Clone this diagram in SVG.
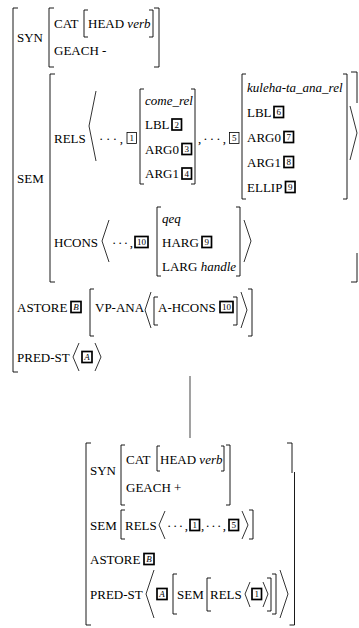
<svg xmlns="http://www.w3.org/2000/svg" width="359" height="628" viewBox="0 0 359 628">
  <style>
    text { font-family: "Liberation Serif", "Times New Roman", serif; font-size: 13px; fill: #000; }
    .it { font-style: italic; }
    .dots { font-size: 13px; }
    .br { fill: none; stroke: #000; stroke-width: 0.9; }
    .ang { fill: none; stroke: #000; stroke-width: 0.8; stroke-linejoin: miter; }
    .tag { fill: #fff; stroke: #000; stroke-width: 1.7; }
    .tagthin { fill: #fff; stroke: #000; stroke-width: 0.8; }
    .tn { font-size: 9px; text-anchor: middle; }
    .edge { stroke: #555; stroke-width: 1.1; fill: none; }
  </style>

  <!-- upper feature structure -->
  <g id="avm-top">
    <!-- brackets -->
    <path class="br" d="M18,8 H13 V372 H18"/>
    <path class="br" d="M54,8 H49 V67 H54 M154,8 H159 V67 H154"/>
    <path class="br" d="M88,10 H84 V37 H88 M149,10 H153 V37 H149"/>
    <path class="br" d="M55,74 H50 V282 H55"/>
    <path class="br" d="M351,72 H357 V103 M357,253 V282 H351"/>
    <path class="br" d="M144,89 H140 V184 H144 M191,89 H195 V184 H191"/>
    <path class="br" d="M246,74 H242 V199 H246 M343,74 H347 V199 H343"/>
    <path class="br" d="M161,207 H157 V276 H161 M236,207 H240 V276 H236"/>
    <path class="br" d="M94,289 H90 V336 H94 M248,289 H252 V336 H248"/>
    <path class="br" d="M158,297 H154 V325 H158 M233,297 H237 V325 H233"/>
    <!-- angle brackets -->
    <path class="ang" d="M96,91 L89,126 L96,161"/>
    <path class="ang" d="M350,106 L357,133 L350,160"/>
    <path class="ang" d="M109,220 L102,241 L109,262"/>
    <path class="ang" d="M244,220 L251,241 L244,262"/>
    <path class="ang" d="M151,292 L145,310 L151,328"/>
    <path class="ang" d="M241,292 L247,310 L241,328"/>
    <path class="ang" d="M79,343 L73,357 L79,371"/>
    <path class="ang" d="M95,343 L101,357 L95,371"/>

    <!-- SYN -->
    <text x="17" y="41.5">SYN</text>
    <text x="54" y="27.5">CAT</text>
    <text x="88" y="27.5">HEAD <tspan class="it">verb</tspan></text>
    <text x="54" y="54.5">GEACH -</text>

    <!-- SEM / RELS -->
    <text x="17" y="182.5">SEM</text>
    <text x="54" y="142.5">RELS</text>
    <text class="dots" x="99" y="142.5" textLength="24">· · · ,</text>
    <rect class="tagthin" x="127" y="132.5" width="9.5" height="11"/>
    <text class="tn" x="131.75" y="141.3">1</text>

    <text class="it" x="145" y="104.5">come_rel</text>
    <text x="145" y="129">LBL</text>
    <rect class="tag" x="172" y="119" width="9.5" height="11"/>
    <text class="tn" x="176.75" y="127.8">2</text>
    <text x="145" y="153.5">ARG0</text>
    <rect class="tag" x="182" y="143.5" width="9.5" height="11"/>
    <text class="tn" x="186.75" y="152.3">3</text>
    <text x="145" y="178">ARG1</text>
    <rect class="tag" x="182" y="168" width="9.5" height="11"/>
    <text class="tn" x="186.75" y="176.8">4</text>

    <text class="dots" x="198" y="142.5" textLength="28">, · · · ,</text>
    <rect class="tagthin" x="229.5" y="132.5" width="9.5" height="11"/>
    <text class="tn" x="234.25" y="141.3">5</text>

    <text class="it" x="247" y="91.5">kuleha-ta_ana_rel</text>
    <text x="247" y="116.5">LBL</text>
    <rect class="tag" x="274" y="106.5" width="9.5" height="11"/>
    <text class="tn" x="278.75" y="115.3">6</text>
    <text x="247" y="141.5">ARG0</text>
    <rect class="tag" x="284" y="131.5" width="9.5" height="11"/>
    <text class="tn" x="288.75" y="140.3">7</text>
    <text x="247" y="166.5">ARG1</text>
    <rect class="tag" x="284" y="156.5" width="9.5" height="11"/>
    <text class="tn" x="288.75" y="165.3">8</text>
    <text x="247" y="191.5">ELLIP</text>
    <rect class="tag" x="285.5" y="181.5" width="9.5" height="11"/>
    <text class="tn" x="290.25" y="190.3">9</text>

    <!-- SEM / HCONS -->
    <text x="54" y="246.5">HCONS</text>
    <text class="dots" x="112" y="246.5" textLength="21">· · · ,</text>
    <rect class="tag" x="135" y="236.5" width="13" height="11"/>
    <text class="tn" x="141.5" y="245.3">10</text>
    <text class="it" x="162" y="222.5">qeq</text>
    <text x="162" y="246.5">HARG</text>
    <rect class="tag" x="202" y="236.5" width="9.5" height="11"/>
    <text class="tn" x="206.75" y="245.3">9</text>
    <text x="162" y="270.5">LARG <tspan class="it">handle</tspan></text>

    <!-- ASTORE -->
    <text x="17" y="311.5">ASTORE</text>
    <rect class="tag" x="71" y="301.5" width="10" height="11"/>
    <text class="tn it" x="76" y="310.3">B</text>
    <text x="95" y="311.5">VP-ANA</text>
    <text x="158" y="311.5">A-HCONS</text>
    <rect class="tag" x="220" y="301.5" width="13" height="11"/>
    <text class="tn" x="226.5" y="310.3">10</text>

    <!-- PRED-ST -->
    <text x="17" y="361.5">PRED-ST</text>
    <rect class="tag" x="82" y="351.5" width="10" height="11"/>
    <text class="tn it" x="87" y="360.3">A</text>
  </g>

  <!-- tree edge between the two structures -->
  <g id="connectors">
    <line class="edge" x1="190" y1="376" x2="190" y2="438"/>
  </g>

  <!-- lower feature structure -->
  <g id="avm-bottom">
    <!-- brackets -->
    <path class="br" d="M91,443 H86 V625 H91"/>
    <path class="br" d="M287,443 H292 V473 M294.5,472 V625 H289.5"/>
    <path class="br" d="M125,445 H121 V505 H125 M226,445 H230 V505 H226"/>
    <path class="br" d="M160,446 H157 V471 H160 M221,446 H224 V471 H221"/>
    <path class="br" d="M125,510 H121 V539 H125 M249,510 H253 V539 H249"/>
    <path class="br" d="M177,574 H173 V614 H177 M272,574 H276 V614 H272"/>
    <path class="br" d="M211,578 H207 V611 H211 M267,578 H271 V611 H267"/>
    <!-- angle brackets -->
    <path class="ang" d="M165,511 L159,525 L165,539"/>
    <path class="ang" d="M242,511 L248,525 L242,539"/>
    <path class="ang" d="M154,570 L146,594 L154,618"/>
    <path class="ang" d="M280,570 L288,594 L280,618"/>
    <path class="ang" d="M250,582 L245,594 L250,607"/>
    <path class="ang" d="M263,582 L268,594 L263,607"/>

    <!-- SYN -->
    <text x="90" y="475">SYN</text>
    <text x="126" y="463.5">CAT</text>
    <text x="160" y="463.5">HEAD <tspan class="it">verb</tspan></text>
    <text x="126" y="491.5">GEACH +</text>

    <!-- SEM -->
    <text x="90" y="529.5">SEM</text>
    <text x="125" y="529.5">RELS</text>
    <text class="dots" x="167" y="529.5" textLength="21">· · · ,</text>
    <rect class="tag" x="190" y="519.5" width="9.5" height="11"/>
    <text class="tn" x="194.75" y="528.3">1</text>
    <text class="dots" x="201" y="529.5" textLength="25">, · · · ,</text>
    <rect class="tag" x="229" y="519.5" width="9.5" height="11"/>
    <text class="tn" x="233.75" y="528.3">5</text>

    <!-- ASTORE -->
    <text x="90" y="563.5">ASTORE</text>
    <rect class="tag" x="144" y="553.5" width="10" height="11"/>
    <text class="tn it" x="149" y="562.3">B</text>

    <!-- PRED-ST -->
    <text x="90" y="598.5">PRED-ST</text>
    <rect class="tag" x="157" y="588.5" width="10" height="11"/>
    <text class="tn it" x="162" y="597.3">A</text>
    <text x="177" y="598.5">SEM</text>
    <text x="210" y="598.5">RELS</text>
    <rect class="tag" x="252" y="588.5" width="9.5" height="11"/>
    <text class="tn" x="256.75" y="597.3">1</text>
  </g>
</svg>
